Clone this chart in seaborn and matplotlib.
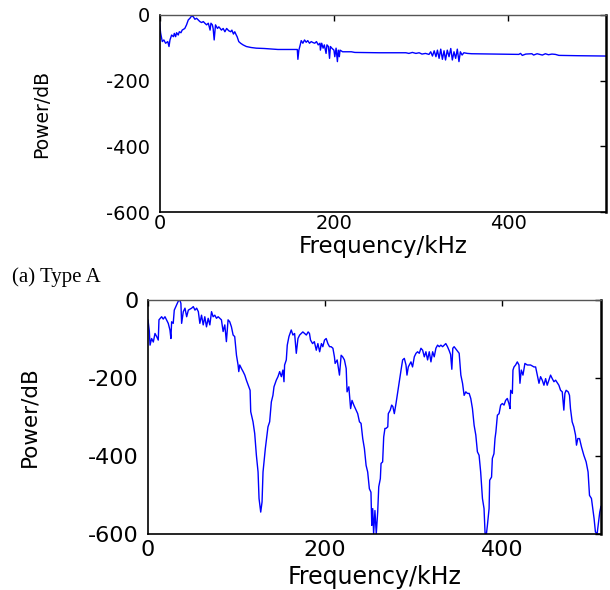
import matplotlib
matplotlib.use("Agg")
import matplotlib.pyplot as plt
import seaborn as sns
import pandas as pd

# ---- Data: top panel (Type A) ----
freq_a = [0, 0.5, 1.3, 3.2, 5, 7, 9.5, 10.9, 12, 13.9, 16, 17, 18.5, 19.6, 21.5, 22.7, 24.6, 26, 29, 31,
          33, 34.9, 36.8, 38.7, 40.6, 42.5, 44.4, 46.3, 48.3, 50.2, 52, 54, 56, 58, 59, 60.6, 61.5, 62.7,
          64.2, 66.5, 68, 69.6, 71, 73, 75, 77, 79.4, 81.7, 83, 84.8, 86.3, 88, 89, 90.9, 93, 95.8, 99.6,
          105, 111, 120, 135.8, 155, 158, 158.7, 159.8, 161.3, 162.5, 164.4, 166.3, 168.2, 170, 172, 174,
          176, 178, 180, 182, 184, 184.5, 186, 187.6, 189, 191, 192, 193.7, 195, 196, 197.6, 200, 201,
          202.5, 204, 205, 206.2, 207, 210, 216, 220, 224, 252, 282.5, 286, 290, 294, 297.7, 301, 305, 309,
          311, 313, 315, 317, 318.7, 320.6, 322.5, 324.4, 326.3, 328, 330, 332, 334, 335.8, 337.7, 339.6,
          341.5, 343.4, 345, 347, 349, 353, 358, 385, 412, 414, 416, 420, 427, 429, 433, 439, 442.5, 446,
          450, 454, 458, 480, 512]
power_a = [-20, -36, -55, -81, -76, -86, -81, -96, -76, -61, -66, -56, -66, -54, -61, -51, -54, -46, -41, -30,
           -15, -10, -3, -5, -13, -10, -15, -20, -23, -20, -25, -30, -25, -46, -25, -30, -41, -76,
           -30, -41, -36, -41, -46, -41, -51, -41, -48, -51, -46, -58, -51, -61, -66, -81, -86, -91, -96,
           -99, -101, -102, -105, -105, -105, -135, -107, -92, -78, -86, -76, -83, -78, -86, -81,
           -84, -86, -81, -91, -86, -107, -86, -101, -91, -117, -91, -96, -132, -96, -101, -107, -127,
           -101, -142, -107, -127, -107, -112, -112, -112, -114, -115, -115, -117, -114, -117, -115, -119, -117, -120,
           -112, -125, -109, -127, -107, -132, -104, -135, -109, -137, -107, -127, -102, -137, -112, -132,
           -104, -142, -112, -122, -115, -117, -118, -119, -120, -117, -123, -119, -118, -122, -118, -122, -118, -121,
           -119, -120, -123, -124, -125]

# ---- Data: bottom panel ----
freq_b = [0, 1.5, 2.3, 4.1, 6, 7.9, 9.8, 11.6, 12.4, 15.4, 17.2, 19.2, 21, 22.9, 24.8, 25.9, 26.7, 28.5,
          29.7, 32.3, 34.2, 36, 37.2, 38, 39.9, 41.8, 43.7, 45.6, 49.3, 51.2, 53.1, 55, 56.9, 58.6, 60.5,
          62.4, 64.2, 66.1, 68, 69.9, 71.8, 73.6, 75.5, 77.4, 79.3, 83, 84.9, 86.8, 88.6, 90.5, 92.4, 94.3,
          96.2, 98, 100, 101.8, 102.6, 103.7, 105.6, 107.5, 109.4, 111.2, 113.9, 115.4, 116.1, 118.7, 120.6,
          122.5, 124.4, 125.5, 127.4, 128.9, 130, 132.6, 135.6, 137.5, 139.4, 141.2, 142.4, 145, 146.9,
          148.8, 150.7, 152.5, 153.7, 154.4, 156.3, 157.4, 159.3, 161.9, 163.8, 165.7, 167.6, 169.5, 171.4,
          173.2, 175, 177, 179, 181, 182.5, 183.7, 186, 188, 190.2, 192, 194, 196, 197.6, 199.5, 201.4,
          203.3, 205.2, 207, 209, 210.7, 211.5, 213.8, 216.4, 218.3, 220, 222, 224, 225, 227, 229, 230.6,
          232.6, 234.4, 237, 239, 240.8, 242.7, 244.6, 246.5, 248.3, 250.2, 252, 252.9, 254, 255, 256.5,
          258, 259.6, 260.8, 262.6, 263.4, 265.2, 266.4, 267.8, 269, 271, 271.6, 273.8, 275.4, 276.8,
          278.4, 280.3, 282, 284, 286, 287.8, 289.7, 291.6, 292.7, 294.2, 297.2, 299, 301, 302.9, 304.7,
          306.6, 308.5, 310.4, 312.3, 314.1, 316, 317.9, 319.8, 321.7, 323.5, 325.4, 327.3, 329.2, 331,
          333, 336.6, 338.5, 340.4, 342, 343.4, 344.5, 346, 348, 350, 351.7, 353.6, 355.5, 357.3, 359.2,
          361, 363, 364.8, 366.7, 368.6, 370.5, 372.3, 374.2, 376, 378, 379.8, 381, 382.5, 383.6, 385.5,
          386.2, 388.3, 389.2, 391, 392.2, 393.2, 394.9, 396.8, 398.6, 400.5, 402.4, 404.2, 406.1, 407.9,
          409.2, 409.9, 411.8, 412.5, 413.7, 415.5, 417.4, 419.3, 420.4, 421.9, 423.8, 426, 428.7, 432.4,
          436.2, 438.1, 440, 441.9, 443.7, 445.6, 447.5, 449.4, 451.2, 453.1, 455, 456.9, 458.8, 460.7,
          464.4, 466.3, 468.2, 470, 471.2, 472.6, 474.9, 476.4, 477.5, 479.4, 481.3, 483.2, 484.3, 485.8,
          487.7, 490, 492.6, 495.2, 497.4, 499, 501.2, 502.7, 504.2, 505.7, 507.6, 508.8, 510.6, 512]
power_b = [-51, -80, -116, -99, -108, -86, -94, -103, -51, -43, -49, -43, -51, -60, -77, -99, -56, -60,
           -26, -13, -3, 0, -9, -60, -30, -21, -43, -26, -21, -17, -26, -21, -30, -60, -39,
           -64, -43, -69, -47, -64, -30, -43, -39, -47, -43, -51, -81, -64, -107, -51, -56, -69,
           -90, -94, -142, -167, -184, -167, -176, -184, -193, -206, -223, -232, -287, -313, -343,
           -399, -442, -510, -545, -519, -442, -382, -326, -313, -262, -245, -223, -206, -197,
           -184, -197, -180, -210, -167, -154, -116, -94, -77, -90, -86, -137, -99, -90,
           -86, -82, -86, -90, -82, -86, -103, -112, -107, -129, -112, -133, -112, -120, -103, -99,
           -112, -120, -120, -124, -146, -163, -154, -193, -142, -146, -154, -176, -236, -223, -279, -258,
           -270, -279, -292, -313, -317, -356, -382, -425, -442, -485, -494, -579, -536, -601, -541,
           -601, -545, -480, -459, -420, -416, -352, -330, -330, -326, -292, -283, -270, -274,
           -292, -266, -240, -210, -180, -154, -150, -167, -193, -172, -159, -172, -146, -137, -133,
           -137, -124, -129, -146, -133, -154, -133, -159, -133, -146, -124, -116, -120, -116,
           -120, -112, -120, -130, -140, -178, -124, -120, -126, -132, -137, -193, -214, -245, -236,
           -240, -240, -253, -279, -322, -347, -390, -399, -442, -510, -536, -601, -601, -579, -536,
           -463, -455, -407, -395, -356, -339, -296, -292, -270, -266, -270, -258, -253, -266,
           -279, -232, -240, -180, -172, -167, -159, -167, -214, -180, -193, -163, -167, -167,
           -172, -172, -193, -214, -197, -206, -219, -202, -219, -206, -193, -202, -210, -206,
           -219, -232, -236, -283, -240, -232, -236, -245, -279, -313, -326, -347, -373, -356,
           -356, -378, -399, -416, -442, -502, -510, -536, -562, -596, -601, -579, -545, -530]

x_ticks = [0, 200, 400]
y_ticks = [0, -200, -400, -600]
x_label = "Frequency/kHz"
y_label = "Power/dB"
caption_a = "(a) Type A"

sns.set_theme(style="white")
plt.rcParams["font.family"] = ["DejaVu Sans"]
plt.rcParams["text.color"] = "black"
plt.rcParams["axes.labelcolor"] = "black"

W, H = 610, 590
fig = plt.figure(figsize=(W / 100, H / 100), dpi=100)

def frac(l, t, r, b):
    return [l / W, 1 - b / H, (r - l) / W, (b - t) / H]

ax1 = fig.add_axes(frac(159.5, 15, 606, 212))
ax2 = fig.add_axes(frac(148, 300, 601, 533.5))

df_a = pd.DataFrame({"f": freq_a, "p": power_a})
df_b = pd.DataFrame({"f": freq_b, "p": power_b})

sns.lineplot(data=df_a, x="f", y="p", ax=ax1, color="#0000ff", linewidth=1.0,
             estimator=None, sort=False)
sns.lineplot(data=df_b, x="f", y="p", ax=ax2, color="#0000ff", linewidth=1.0,
             estimator=None, sort=False)

for ax, tsize, xpad, ypad, ylsize, xlsize in [(ax1, 14, 1.5, 7, 13.5, 16.5),
                                              (ax2, 16, 4.5, 7, 15.5, 17)]:
    ax.set_xlim(0, 512)
    ax.set_ylim(-600, 0)
    ax.set_xticks(x_ticks)
    ax.set_yticks(y_ticks)
    ax.set_xticklabels([str(v) for v in x_ticks])
    ax.set_yticklabels([str(v) for v in y_ticks])
    ax.tick_params(direction="in", top=True, right=True, length=4, width=1,
                   colors="black", labelsize=tsize)
    ax.tick_params(axis="x", pad=xpad)
    ax.tick_params(axis="y", pad=ypad)
    ax.set_facecolor("white")
    for side in ["left", "bottom"]:
        ax.spines[side].set_color("black")
        ax.spines[side].set_linewidth(1.2)
    ax.spines["right"].set_color("black")
    ax.spines["right"].set_linewidth(1.8)
    ax.spines["top"].set_color("#555555")
    ax.spines["top"].set_linewidth(1.0)
    ax.set_xlabel(x_label, fontsize=xlsize, color="black")
    ax.set_ylabel(y_label, fontsize=ylsize, color="black")
    ax.xaxis.label.set_va("center")
    ax.yaxis.label.set_va("center")

def place_xlabel(ax, ypix, top, bottom):
    ax.xaxis.set_label_coords(0.5, (bottom - ypix) / (bottom - top))

def place_ylabel(ax, xpix, left, right):
    ax.yaxis.set_label_coords((xpix - left) / (right - left), 0.5)

place_xlabel(ax1, 247, 15, 212)
place_xlabel(ax2, 577, 300, 533.5)
place_ylabel(ax1, 42, 159.5, 606)
place_ylabel(ax2, 29, 148, 601)

fig.text(12 / W, 1 - 277 / H, caption_a, family=["Liberation Serif", "DejaVu Serif"],
         fontsize=15, va="center", ha="left", color="black")

fig.savefig("out.png", dpi=100)
